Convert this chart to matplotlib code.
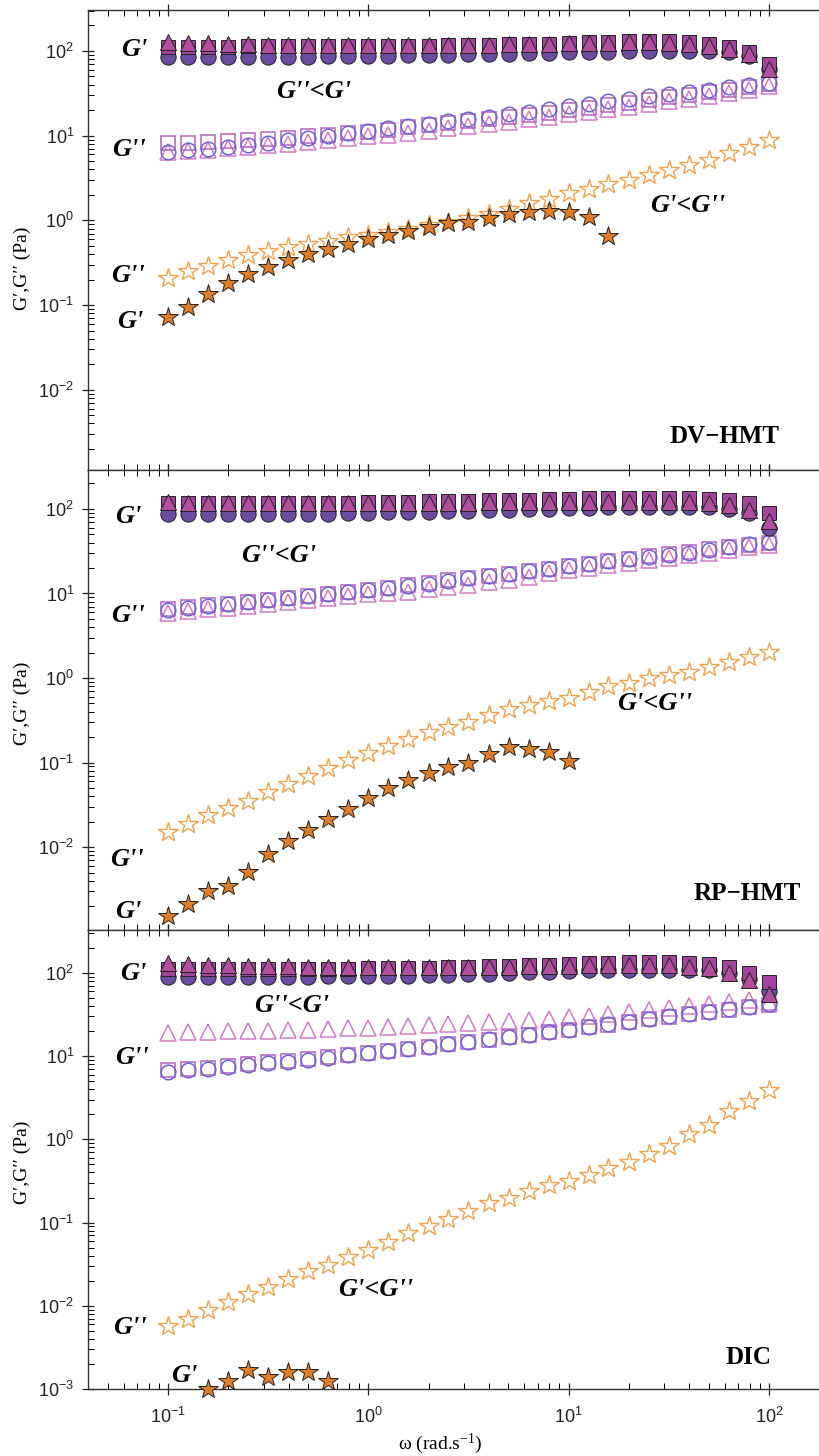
import math
import matplotlib
matplotlib.use('Agg')
import matplotlib.pyplot as plt
from matplotlib.ticker import LogLocator, FuncFormatter, NullFormatter

plt.rcParams['font.family'] = ['Liberation Sans', 'DejaVu Sans']
plt.rcParams['mathtext.default'] = 'regular'

# ---------------- data ----------------
omega = [0.1, 0.126, 0.158, 0.2, 0.251, 0.316, 0.398, 0.501, 0.631, 0.794,
         1.0, 1.26, 1.58, 2.0, 2.51, 3.16, 3.98, 5.01, 6.31, 7.94,
         10.0, 12.6, 15.8, 20.0, 25.1, 31.6, 39.8, 50.1, 63.1, 79.4, 100.0]

panel_names = ['DV\u2212HMT', 'RP\u2212HMT', 'DIC']

# DV-HMT
dv_gp_tri = [127, 125, 123, 121, 120, 119, 118, 118, 118, 118, 118, 118, 118, 118, 118, 119,
             119, 120, 121, 122, 123, 124, 125, 126, 126, 125, 122, 115, 105, 91, 62]
dv_gp_sq = [112, 112, 112, 112, 113, 113, 113, 114, 114, 114, 115, 115, 116, 116, 117, 118,
            119, 120, 121, 122, 124, 126, 128, 130, 131, 131, 128, 121, 110, 96, 70]
dv_gp_circ = [85, 85, 85, 85, 85, 86, 86, 86, 87, 87, 88, 88, 89, 90, 90, 91,
              92, 93, 94, 95, 96, 97, 98, 99, 100, 100, 100, 99, 96, 88, 62]
dv_gpp_sq = [8.2, 8.3, 8.5, 8.7, 8.9, 9.1, 9.5, 9.8, 10.2, 10.7, 11.2, 11.8, 12.5, 13.2, 14.0, 14.8,
             15.6, 16.5, 17.5, 18.6, 20.0, 21.5, 23.0, 24.5, 26.5, 28.5, 30.5, 32.5, 35.0, 38.0, 41.0]
dv_gpp_circ = [6.5, 6.7, 7.0, 7.4, 7.8, 8.3, 8.8, 9.4, 10.0, 10.7, 11.4, 12.2, 13.0, 13.9, 14.8, 15.8,
               16.8, 17.9, 19.2, 20.6, 22.2, 23.8, 25.5, 27.3, 29.2, 31.0, 33.0, 35.0, 37.2, 39.5, 42.0]
dv_gpp_tri = [6.4, 6.6, 6.8, 7.1, 7.4, 7.7, 8.0, 8.4, 8.8, 9.3, 9.8, 10.3, 10.9, 11.5, 12.2, 12.9,
              13.7, 14.6, 15.6, 16.6, 17.8, 19.0, 20.4, 22.0, 23.6, 25.4, 27.4, 29.5, 32.0, 35.0, 39.0]
dv_star_omega = omega[:23]
dv_gp_star = [0.072, 0.095, 0.135, 0.18, 0.23, 0.28, 0.34, 0.40, 0.46, 0.53, 0.60, 0.67,
              0.75, 0.84, 0.92, 0.97, 1.08, 1.18, 1.25, 1.30, 1.27, 1.09, 0.65]
dv_gpp_star = [0.21, 0.25, 0.29, 0.34, 0.39, 0.435, 0.49, 0.525, 0.575, 0.63, 0.67, 0.72, 0.80,
               0.88, 0.97, 1.08, 1.2, 1.38, 1.6, 1.8, 2.1, 2.35, 2.7, 3.0, 3.4, 3.9, 4.5, 5.2,
               6.3, 7.4, 8.9]

# RP-HMT
rp_gp_tri = [120, 119, 119, 119, 119, 119, 119, 119, 119, 119, 119, 119, 119, 119, 119, 119,
             120, 120, 121, 121, 122, 122, 122, 122, 122, 121, 120, 118, 110, 97, 71]
rp_gp_sq = [118, 118, 118, 118, 118, 118, 118, 118, 119, 119, 120, 121, 122, 123, 124, 125,
            126, 127, 128, 130, 132, 133, 134, 135, 135, 135, 134, 131, 127, 117, 90]
rp_gp_circ = [87, 87, 87, 87, 87, 87, 87, 88, 88, 89, 90, 91, 92, 93, 94, 95,
              96, 97, 99, 100, 102, 103, 104, 105, 106, 106, 106, 104, 100, 90, 60]
rp_gpp_sq = [6.5, 6.9, 7.3, 7.6, 8.0, 8.4, 8.8, 9.3, 9.8, 10.4, 11.0, 11.7, 12.6, 13.4, 14.3, 15.2,
             16.2, 17.2, 18.3, 19.5, 21.0, 22.5, 24.0, 25.7, 27.5, 29.4, 31.3, 33.3, 35.5, 37.7, 40.0]
rp_gpp_circ = [6.3, 6.7, 7.1, 7.5, 7.9, 8.3, 8.8, 9.3, 9.9, 10.5, 11.1, 11.7, 12.3, 13.1, 14.1, 15.2,
               16.2, 17.2, 18.4, 19.6, 21.0, 22.4, 23.9, 25.3, 26.9, 28.6, 30.4, 32.5, 35.0, 38.0, 41.0]
rp_gpp_tri = [5.9, 6.2, 6.5, 6.8, 7.1, 7.5, 7.9, 8.3, 8.8, 9.4, 9.9, 10.2, 10.5, 11.2, 11.9, 12.6,
              13.6, 14.6, 15.8, 17.3, 19.0, 20.2, 21.5, 23.0, 24.7, 26.5, 28.4, 30.4, 32.5, 35.0, 37.5]
rp_star_omega = omega[:21]
rp_gp_star = [0.00152, 0.00211, 0.0030, 0.00345, 0.0051, 0.0084, 0.0119, 0.0159, 0.0213, 0.0282,
              0.0377, 0.0495, 0.062, 0.076, 0.089, 0.0995, 0.126, 0.154, 0.143, 0.134, 0.104]
rp_gpp_star = [0.0152, 0.0187, 0.0237, 0.0292, 0.0353, 0.0444, 0.0557, 0.070, 0.087, 0.107, 0.131,
               0.158, 0.19, 0.228, 0.261, 0.304, 0.365, 0.43, 0.48, 0.53, 0.585, 0.69, 0.81, 0.88,
               0.99, 1.08, 1.19, 1.36, 1.56, 1.79, 2.05]

# DIC
dic_gp_tri = [131, 128, 126, 124, 122, 121, 120, 119, 119, 119, 119, 119, 119, 119, 119, 119,
              119, 119, 120, 121, 122, 123, 124, 125, 125, 123, 119, 114, 100, 82, 56]
dic_gp_sq = [112, 112, 112, 112, 112, 112, 112, 112, 113, 113, 114, 114, 115, 116, 117, 118,
             120, 122, 124, 126, 128, 130, 132, 134, 136, 137, 132, 127, 117, 100, 78]
dic_gp_circ = [89, 89, 89, 89, 89, 90, 90, 90, 91, 91, 92, 92, 93, 94, 95, 96,
               98, 100, 102, 104, 106, 107, 108, 109, 109, 109, 108, 107, 100, 84, 60]
dic_gpp_tri = [19.2, 19.4, 19.6, 19.8, 20.0, 20.3, 20.6, 20.9, 21.2, 21.6, 22.0, 22.4, 23.0, 23.6,
               24.2, 24.9, 25.6, 26.4, 27.3, 28.3, 29.4, 30.5, 31.7, 33.5, 35.5, 38.0, 40.0, 42.0,
               45.0, 47.0, 45.0]
dic_gpp_sq = [6.8, 7.0, 7.3, 7.6, 8.0, 8.4, 8.8, 9.3, 9.8, 10.3, 10.9, 11.5, 12.2, 13.0, 13.9, 14.8,
              15.8, 16.9, 18.1, 19.4, 20.8, 22.3, 24.0, 25.8, 27.7, 29.7, 31.7, 33.9, 36.2, 38.8, 41.0]
dic_gpp_circ = [6.5, 6.8, 7.1, 7.4, 7.8, 8.2, 8.6, 9.1, 9.6, 10.2, 10.8, 11.4, 12.2, 13.0, 13.9, 14.9,
                15.9, 17.0, 18.2, 19.5, 20.9, 22.4, 24.2, 26.0, 28.0, 30.0, 32.0, 34.2, 36.6, 39.5, 42.0]
dic_star_omega = omega[2:9]
dic_gp_star = [0.00100, 0.00124, 0.00169, 0.0014, 0.00158, 0.00158, 0.00126]
dic_gpp_star = [0.0057, 0.0070, 0.0088, 0.011, 0.0138, 0.0167, 0.021, 0.026, 0.031, 0.039, 0.047,
                0.059, 0.074, 0.09, 0.11, 0.136, 0.17, 0.2, 0.24, 0.28, 0.32, 0.37, 0.45, 0.54,
                0.66, 0.83, 1.15, 1.5, 2.2, 2.9, 3.9]

# ---------------- style ----------------
C_TRI = '#B24E9E'
C_SQ = '#A1449B'
C_CIRC = '#6A4DA0'
C_OTRI = '#D27AC8'
C_OSQ = '#B561BE'
C_OCIRC = '#6F63CF'
C_STAR = '#E07D28'
C_OSTAR = '#F0A04E'

W, H = 819, 1456
fig = plt.figure(figsize=(W / 100, H / 100), dpi=100)

def px(x, y):
    return x / W, 1 - y / H

LEFT = 88
panel_px = [(10, 470), (470, 930), (930, 1389)]
ylims = [(10 ** -2.947, 10 ** 2.484), (10 ** -2.98, 10 ** 2.46), (10 ** -3.0, 10 ** 2.516)]
XLIM = (10 ** -1.40, 10 ** 2.25)

SERIF = ['Liberation Serif', 'DejaVu Serif']
lab = dict(family=SERIF, weight='bold', style='italic', size=19, ha='center', va='center')

def decade_fmt(v, pos):
    e = int(round(math.log10(v)))
    if e < 0:
        return '$10^{\u2212%d}$' % (-e)
    return '$10^{%d}$' % e

datasets = [
    (dv_gp_tri, dv_gp_sq, dv_gp_circ, dv_gpp_tri, dv_gpp_sq, dv_gpp_circ, dv_star_omega, dv_gp_star, dv_gpp_star),
    (rp_gp_tri, rp_gp_sq, rp_gp_circ, rp_gpp_tri, rp_gpp_sq, rp_gpp_circ, rp_star_omega, rp_gp_star, rp_gpp_star),
    (dic_gp_tri, dic_gp_sq, dic_gp_circ, dic_gpp_tri, dic_gpp_sq, dic_gpp_circ, dic_star_omega, dic_gp_star, dic_gpp_star),
]

for k, ((top, bot), yl, d) in enumerate(zip(panel_px, ylims, datasets)):
    l, b = px(LEFT, bot)
    ax = fig.add_axes([l, b, 1 - l, (bot - top) / H])
    ax.set_xscale('log')
    ax.set_yscale('log')
    ax.set_xlim(*XLIM)
    ax.set_ylim(*yl)
    gp_tri, gp_sq, gp_circ, gpp_tri, gpp_sq, gpp_circ, ws, gp_star, gpp_star = d
    ax.plot(omega, gpp_tri, ls='none', marker='^', ms=11, mfc='none', mec=C_OTRI, mew=1.1)
    ax.plot(omega, gpp_sq, ls='none', marker='s', ms=9.5, mfc='none', mec=C_OSQ, mew=1.1)
    ax.plot(omega, gpp_circ, ls='none', marker='o', ms=10.5, mfc='none', mec=C_OCIRC, mew=1.1)
    ax.plot(omega, gp_circ, ls='none', marker='o', ms=11, mfc=C_CIRC, mec='#222222', mew=0.7)
    ax.plot(omega, gp_sq, ls='none', marker='s', ms=9.5, mfc=C_SQ, mec='#222222', mew=0.7)
    ax.plot(omega, gp_tri, ls='none', marker='^', ms=11, mfc=C_TRI, mec='#222222', mew=0.7)
    ax.plot(omega, gpp_star, ls='none', marker='*', ms=15, mfc='white', mec=C_OSTAR, mew=1.0)
    ax.plot(ws, gp_star, ls='none', marker='*', ms=15, mfc=C_STAR, mec='#222222', mew=0.7,
            clip_on=False, zorder=5)

    ax.spines['right'].set_visible(False)
    for s in ['left', 'top', 'bottom']:
        ax.spines[s].set_linewidth(1.0)
        ax.spines[s].set_color('#333333')
    ax.xaxis.set_major_locator(LogLocator(base=10, numticks=20))
    ax.xaxis.set_minor_locator(LogLocator(base=10, subs=range(2, 10), numticks=20))
    ax.yaxis.set_major_locator(LogLocator(base=10, numticks=20))
    ax.yaxis.set_minor_locator(LogLocator(base=10, subs=range(2, 10), numticks=20))
    ax.tick_params(axis='both', which='major', direction='inout', length=8, width=0.9,
                   top=True, bottom=True, left=True, right=False, labelsize=13, colors='#222222')
    ax.tick_params(axis='both', which='minor', direction='in', length=4, width=0.7,
                   top=True, bottom=True, left=True, right=False)
    ax.yaxis.set_major_formatter(FuncFormatter(decade_fmt))
    ax.yaxis.set_minor_formatter(NullFormatter())
    if k < 2:
        ax.xaxis.set_major_formatter(NullFormatter())
    else:
        ax.xaxis.set_major_formatter(FuncFormatter(decade_fmt))
    ax.xaxis.set_minor_formatter(NullFormatter())
    ax.tick_params(axis='y', pad=6)
    ax.tick_params(axis='x', pad=9)

# y labels
for yc in [268, 703, 1162]:
    fig.text(*px(22, yc), 'G\u2032,G\u2032\u2032 (Pa)', family=SERIF, size=14, rotation=90,
             ha='center', va='center')

# x label
fig.text(*px(440, 1444), '\u03c9 (rad.s$^{-1}$)', family=SERIF, size=14, ha='center', va='center')

# annotations (pixel positions)
texts = [
    (134, 50, "G'"), (314, 92, "G''<G'"), (129, 150, "G''"), (688, 205, "G'<G''"),
    (128, 276, "G''"), (130, 321, "G'"),
    (128, 516, "G'"), (279, 555, "G''<G'"), (128, 615, "G''"), (655, 703, "G'<G''"),
    (127, 860, "G''"), (128, 912, "G'"),
    (133, 973, "G'"), (292, 1005, "G''<G'"), (132, 1057, "G''"), (376, 1289, "G'<G''"),
    (130, 1328, "G''"), (184, 1376, "G'"),
]
for x, y, s in texts:
    fig.text(*px(x, y), s, **lab)

name_pos = [(725, 436), (747, 893), (748, 1357)]
for (x, y), s in zip(name_pos, panel_names):
    fig.text(*px(x, y), s, family=SERIF, weight='bold', size=18, ha='center', va='center')

fig.savefig('out.png', dpi=100)
